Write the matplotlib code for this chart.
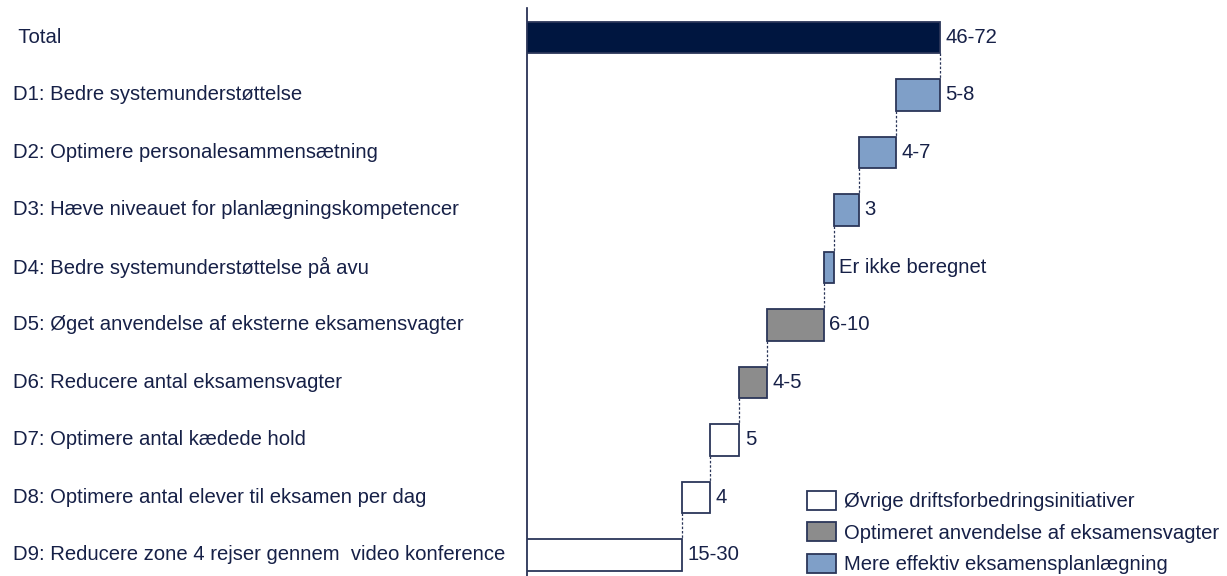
import matplotlib.pyplot as plt
import matplotlib.transforms as mtransforms
from matplotlib.patches import Patch

plt.rcParams["font.family"] = ["Liberation Sans", "DejaVu Sans"]

categories = [
    " Total",
    "D1: Bedre systemunderstøttelse",
    "D2: Optimere personalesammensætning",
    "D3: Hæve niveauet for planlægningskompetencer",
    "D4: Bedre systemunderstøttelse på avu",
    "D5: Øget anvendelse af eksterne eksamensvagter",
    "D6: Reducere antal eksamensvagter",
    "D7: Optimere antal kædede hold",
    "D8: Optimere antal elever til eksamen per dag",
    "D9: Reducere zone 4 rejser gennem  video konference",
]
# estimated bar lengths (million kr.), total first, then each initiative
total_value = 59.0
step_values = [6.3, 5.3, 3.6, 1.4, 8.1, 4.0, 4.1, 4.0, 22.2]
value_labels = ["46-72", "5-8", "4-7", "3", "Er ikke beregnet",
                "6-10", "4-5", "5", "4", "15-30"]
groups = ["total", "plan", "plan", "plan", "plan",
          "vagt", "vagt", "other", "other", "other"]

group_colors = {
    "total": "#001640",
    "plan": "#7f9fc8",
    "vagt": "#8c8c8c",
    "other": "#ffffff",
}
legend_labels = [
    ("other", "Øvrige driftsforbedringsinitiativer"),
    ("vagt", "Optimeret anvendelse af eksamensvagter"),
    ("plan", "Mere effektiv eksamensplanlægning"),
]

ink = "#162047"
edge = "#2b3659"
fs = 14.6

fig = plt.figure(figsize=(12.27, 5.76), dpi=100)
ax = fig.add_axes([527 / 1227, 0, 700 / 1227, 568 / 576])

# waterfall: steps run downward from the total
lefts = [0.0]
widths = [total_value]
right = total_value
for v in step_values:
    lefts.append(right - v)
    widths.append(v)
    right -= v

ypos = list(range(len(categories)))
bar_h = 0.556
for y, left, w, g in zip(ypos, lefts, widths, groups):
    ax.barh(y, w, left=left, height=bar_h, color=group_colors[g],
            edgecolor=edge, linewidth=1.3, zorder=3)

# dotted connectors from each bar down to the right end of the next one
for i in range(len(categories) - 1):
    x = lefts[i + 1] + widths[i + 1]
    ax.plot([x, x], [i + bar_h / 2, i + 1 - bar_h / 2], color=edge,
            linestyle=(0, (2, 1.5)), linewidth=0.9, zorder=2)

for y, left, w, lab in zip(ypos, lefts, widths, value_labels):
    ax.annotate(lab, (left + w, y), xytext=(4, 0), textcoords="offset points",
                ha="left", va="center", fontsize=fs, color=ink)

label_tf = mtransforms.blended_transform_factory(fig.transFigure, ax.transData)
for y, cat in zip(ypos, categories):
    ax.text(13 / 1227, y, cat, transform=label_tf, ha="left", va="center",
            fontsize=fs, color=ink)

ax.set_xlim(0, 100)
ax.set_ylim(9 + 21 / 57.5, -0.513)
for side in ["top", "right", "bottom"]:
    ax.spines[side].set_visible(False)
ax.spines["left"].set_color(ink)
ax.spines["left"].set_linewidth(1.2)
ax.set_xticks([])
ax.set_yticks([])
ax.patch.set_alpha(0)

handles = [Patch(facecolor=group_colors[g], edgecolor=edge, linewidth=1.3)
           for g, _ in legend_labels]
fig.legend(handles, [t for _, t in legend_labels], loc="upper left",
           bbox_to_anchor=(807 / 1227, 1 - 491 / 576), frameon=False,
           fontsize=fs, labelcolor=ink, borderpad=0, borderaxespad=0,
           handlelength=1.42, handleheight=1.05, handletextpad=0.4,
           labelspacing=0.55)

fig.savefig("out.png", dpi=100)
